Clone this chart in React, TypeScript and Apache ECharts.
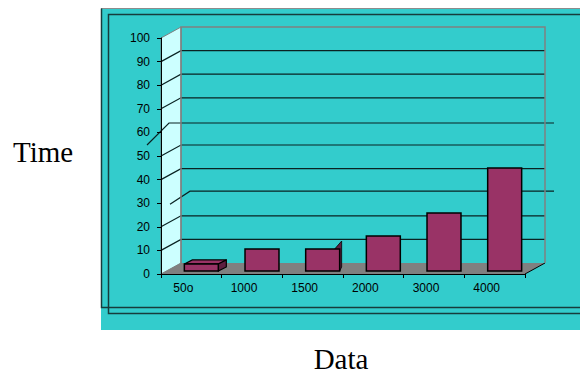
import React, { useEffect, useRef } from "react";
import * as echarts from "echarts";

const categories = ["50o", "1000", "1500", "2000", "3000", "4000"];
const times = [3, 9.3, 9.3, 14.8, 24.6, 43.6];
const yMin = 0;
const yMax = 100;
const yStep = 10;
const gridLevels = [10, 20, 40, 50, 70, 80, 90];
const xTitle = "Data";
const yTitle = "Time";

// layout of the front plane and 3D depth
const L = 161, T = 38, W = 364, H = 236;
const DX = 20, DY = -11;
const BAR_DX = 10, BAR_DY = -3;

const TEAL = "#33CCCC";
const WALL = "#CCFFFF";
const FLOOR = "#808080";
const BAR = "#993366";
const BAR_SIDE = "#5e1f40";
const DARK = "#173c3c";

const yF = (v: number) => T + H * (1 - (v - yMin) / (yMax - yMin));

function buildGraphic() {
  const els: any[] = [];
  els.push({ type: "rect", shape: { x: 101, y: 8, width: 500, height: 322 }, style: { fill: TEAL } });
  els.push({ type: "polyline", shape: { points: [[101.5, 300], [101.5, 8.5], [600, 8.5]] }, style: { stroke: "#8c8c8c", lineWidth: 1, fill: null } });
  els.push({ type: "polyline", shape: { points: [[101.5, 8.5], [101.5, 307.5], [600, 307.5]] }, style: { stroke: DARK, lineWidth: 1.5, fill: null } });
  els.push({ type: "polyline", shape: { points: [[600, 14.5], [108.5, 14.5], [108.5, 313.5], [600, 313.5]] }, style: { stroke: DARK, lineWidth: 1.5, fill: null } });
  // left wall
  els.push({ type: "polygon", shape: { points: [[L, yF(yMax)], [L + DX, yF(yMax) + DY], [L + DX, yF(yMin) + DY], [L, yF(yMin)]] }, style: { fill: WALL, stroke: "#808080", lineWidth: 1 } });
  // floor
  els.push({ type: "polygon", shape: { points: [[L, yF(yMin)], [L + W, yF(yMin)], [L + W + DX, yF(yMin) + DY], [L + DX, yF(yMin) + DY]] }, style: { fill: FLOOR } });
  els.push({ type: "line", shape: { x1: L + W, y1: yF(yMin), x2: L + W + DX, y2: yF(yMin) + DY }, style: { stroke: "#000", lineWidth: 1 } });
  // gridlines
  gridLevels.forEach((v) => {
    els.push({ type: "polyline", shape: { points: [[L, yF(v)], [L + DX, yF(v) + DY], [L + W + DX, yF(v) + DY]] }, style: { stroke: "#0a2222", lineWidth: 1.2, fill: null } });
  });
  // displaced gridlines (60 and 30)
  els.push({ type: "polyline", shape: { points: [[L - 14, yF(60) + 12.6], [L + 8, yF(60) - 9.4], [L + W + DX + 9, yF(60) - 9.4]] }, style: { stroke: "#0a2222", lineWidth: 1.2, fill: null } });
  els.push({ type: "polyline", shape: { points: [[L + 9, yF(30) + 1], [L + DX + 9, yF(30) + DY - 1], [L + W + DX + 9, yF(30) + DY - 1]] }, style: { stroke: "#0a2222", lineWidth: 1.2, fill: null } });
  // back wall border
  els.push({ type: "polyline", shape: { points: [[L + DX, yF(yMin) + DY], [L + DX, yF(yMax) + DY], [L + W + DX, yF(yMax) + DY], [L + W + DX, yF(yMin) + DY]] }, style: { stroke: "#808080", lineWidth: 1.5, fill: null } });
  // titles
  els.push({ type: "text", x: 13, y: 152, style: { text: yTitle, font: "29px 'Liberation Serif', 'Times New Roman', serif", fill: "#000", verticalAlign: "middle", align: "left" } });
  els.push({ type: "text", x: 341, y: 359, style: { text: xTitle, font: "29px 'Liberation Serif', 'Times New Roman', serif", fill: "#000", verticalAlign: "middle", align: "center" } });
  return els;
}

export default function App() {
  const ref = useRef<HTMLDivElement>(null);
  useEffect(() => {
    if (!ref.current) return;
    const chart = echarts.init(ref.current, null, { renderer: "svg" });
    chart.setOption({
      animation: false,
      backgroundColor: "#ffffff",
      graphic: { z: 0, elements: buildGraphic() },
      grid: { left: L, top: T, width: W, height: H, show: false },
      xAxis: {
        type: "category",
        data: categories,
        z: 3,
        boundaryGap: true,
        axisLine: { show: true, lineStyle: { color: "#000", width: 1 } },
        axisTick: { show: true, alignWithLabel: false, interval: 0, length: 4, lineStyle: { color: "#000" } },
        axisLabel: { interval: 0, margin: 8, color: "#000", fontSize: 12, fontFamily: "'Liberation Sans', Arial, sans-serif", padding: [0, 16, 0, 0] },
        splitLine: { show: false },
      },
      yAxis: {
        type: "value",
        min: yMin,
        max: yMax,
        interval: yStep,
        z: 3,
        axisLine: { show: true, lineStyle: { color: "#000", width: 1 } },
        axisTick: { show: true, length: 4, lineStyle: { color: "#000" } },
        axisLabel: { margin: 11, color: "#000", fontSize: 12, fontFamily: "'Liberation Sans', Arial, sans-serif" },
        splitLine: { show: false },
      },
      series: [
        {
          type: "custom",
          z: 5,
          data: categories.map((c, i) => [i, times[i]]),
          encode: { x: 0, y: 1 },
          renderItem: (params: any, api: any) => {
            const i = api.value(0);
            const v = api.value(1);
            const top = api.coord([i, v]);
            const base = api.coord([i, 0]);
            const bw = api.size([1, 0])[0] * 0.56;
            const x = top[0] + BAR_DX - bw / 2;
            const y1 = top[1] + BAR_DY;
            const y0 = base[1] + BAR_DY;
            const children: any[] = [];
            if (params.dataIndex === 0) {
              children.push({ type: "polygon", shape: { points: [[x, y1], [x + bw, y1], [x + bw + 8, y1 - 4], [x + 8, y1 - 4]] }, style: { fill: BAR, stroke: "#000", lineWidth: 1.2 } });
              children.push({ type: "polygon", shape: { points: [[x + bw, y1], [x + bw + 8, y1 - 4], [x + bw + 8, y0 - 4], [x + bw, y0]] }, style: { fill: BAR_SIDE, stroke: "#000", lineWidth: 1.2 } });
            }
            if (params.dataIndex === 2) {
              children.push({ type: "polygon", shape: { points: [[x + bw - 5, y1], [x + bw + 2, y1 - 8], [x + bw + 2, y0 - 4], [x + bw, y0]] }, style: { fill: BAR_SIDE, stroke: "#000", lineWidth: 0.8 } });
            }
            children.push({ type: "rect", shape: { x, y: y1, width: bw, height: y0 - y1 }, style: { fill: BAR, stroke: "#000", lineWidth: 1.5 } });
            return { type: "group", children };
          },
        },
      ],
    });
    return () => chart.dispose();
  }, []);
  return <div ref={ref} style={{ position: "fixed", left: 0, top: 0, width: 580, height: 375 }} />;
}
